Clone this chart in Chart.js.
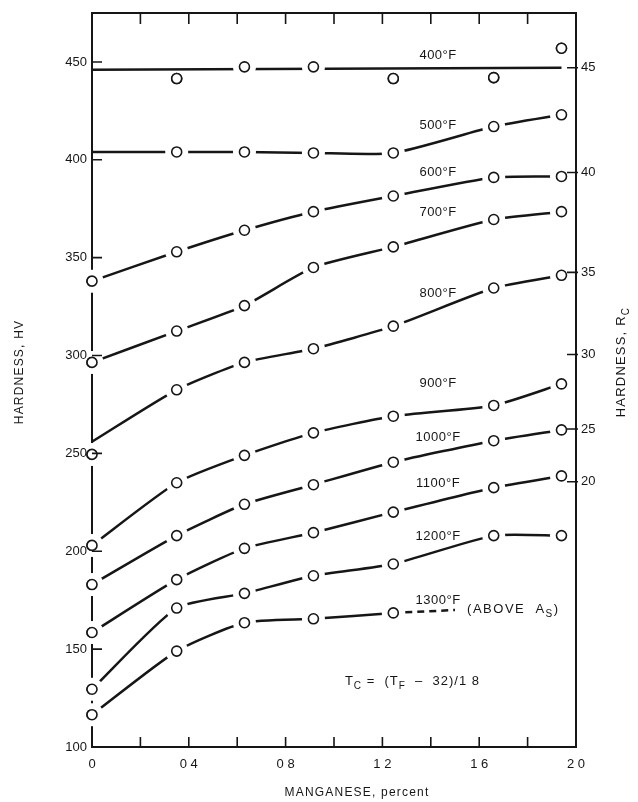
<!DOCTYPE html>
<html>
<head>
<meta charset="utf-8">
<script src="https://cdn.jsdelivr.net/npm/chart.js@4.4.1/dist/chart.umd.min.js"></script>
<style>
  html, body { margin: 0; padding: 0; background: #fff; }
</style>
</head>
<body>
<canvas id="chart" width="638" height="802"></canvas>
<script>
const INK = "#161616";
const FONT = '"Liberation Sans", Arial, Helvetica, sans-serif';

// manganese content of the steels, percent
const manganese = [0, 0.35, 0.63, 0.915, 1.245, 1.66, 1.94];

// hardness HV after tempering, one list per temperature (null = no reading)
const hv400 = [null, 441.5, 447.5, 447.5, 441.5, 442, 457];
const hv500 = [404, 404, 404, 403.5, 403.5, 417, 423];
const hv600 = [338, 353, 364, 373.5, 381.5, 391, 391.5];
const hv700 = [296.5, 312.5, 325.5, 345, 355.5, 369.5, 373.5];
const hv800 = [256, 282.5, 296.5, 303.5, 315, 334.5, 341];
const hv900 = [203, 235, 249, 260.5, 269, 274.5, 285.5];
const hv1000 = [183, 208, 224, 234, 245.5, 256.5, 262];
const hv1100 = [158.5, 185.5, 201.5, 209.5, 220, 232.5, 238.5];
const hv1200 = [129.5, 171, 178.5, 187.5, 193.5, 208, 208];
const hv1300 = [116.5, 149, 163.5, 165.5, 168.5, null, null];

// 400°F is a straight mean line through the scatter (Mn 0 and Mn 1.94)
const fit400 = [446, 447];
// 1300°F goes on dashed (above As)
const dash1300Mn = [1.245, 1.5];
const dash1300Hv = [168.5, 170];
// lone reading at Mn 0, not joined to a curve
const loneMn = [0];
const loneHv = [249.5];

const curveSeries = [hv500, hv600, hv700, hv800, hv900, hv1000, hv1100, hv1200, hv1300];
// these curves start at Mn 0 without a measured point there
const unmeasuredAtZero = [hv500, hv800];

const tempLabels = ["400°F", "500°F", "600°F", "700°F", "800°F", "900°F", "1000°F", "1100°F", "1200°F", "1300°F"];
const tempLabelHv = [453.5, 417.5, 393.5, 373, 331.5, 285.5, 258, 234.5, 207.5, 175];

// axes
const mnTicks = [0.2, 0.4, 0.6, 0.8, 1.0, 1.2, 1.4, 1.6, 1.8];
const mnLabelValues = [0, 0.4, 0.8, 1.2, 1.6, 2.0];
const mnLabels = ["0", "0 4", "0 8", "1 2", "1 6", "2 0"];
const hvTicks = [100, 150, 200, 250, 300, 350, 400, 450];
const rcLabels = ["45", "40", "35", "30", "25", "20"];
const rcAsHv = [447, 393.5, 342.5, 300.5, 262.5, 235.5];

const toPoints = (xs, ys) => xs.map((x, i) => ({ x: x, y: ys[i] })).filter((p) => p.y !== null && p.y !== undefined);

const lineStyle = { borderColor: INK, borderWidth: 2.5, pointRadius: 0, fill: false, clip: false };

const datasets = [];
curveSeries.forEach((hv) => {
  datasets.push({ ...lineStyle, data: toPoints(manganese, hv), tension: 0.2 });
});
datasets.push({ ...lineStyle, data: toPoints([manganese[0], manganese[manganese.length - 1]], fit400), tension: 0 });
datasets.push({ ...lineStyle, data: toPoints(dash1300Mn, dash1300Hv), tension: 0, borderDash: [7, 5] });

let markers = toPoints(manganese, hv400).concat(toPoints(loneMn, loneHv));
curveSeries.forEach((hv) => {
  let pts = toPoints(manganese, hv);
  if (unmeasuredAtZero.includes(hv)) pts = pts.filter((p) => p.x !== 0);
  markers = markers.concat(pts);
});

// circles off the 400°F line get no white ring
const fitAt = (mn) => fit400[0] + ((fit400[1] - fit400[0]) * mn) / manganese[manganese.length - 1];
const scatter400 = toPoints(manganese, hv400).filter((p) => Math.abs(p.y - fitAt(p.x)) > 2);
const ringed = markers.map((p) => !scatter400.some((s) => s.x === p.x && s.y === p.y));

// the circles dataset is placed by the library, the plugin repaints it over the lines
const markerIndex = datasets.length;
datasets.push({ data: markers, showLine: false, pointRadius: 5, pointBorderWidth: 1.6, pointBorderColor: INK, pointBackgroundColor: "#fff", clip: false });

function drawParts(ctx, parts, x, y, align) {
  const size = 13;
  const widths = parts.map(([text, sub]) => {
    ctx.font = `${sub ? 10 : size}px ${FONT}`;
    return ctx.measureText(text).width;
  });
  const total = widths.reduce((a, b) => a + b, 0);
  let cx = align === "center" ? x - total / 2 : x;
  ctx.textAlign = "left";
  ctx.textBaseline = "middle";
  parts.forEach(([text, sub], i) => {
    ctx.font = `${sub ? 10 : size}px ${FONT}`;
    ctx.fillText(text, cx, sub ? y + 5 : y);
    cx += widths[i];
  });
}

const circlesOnTop = {
  id: "circlesOnTop",
  afterDatasetsDraw(chart) {
    const { ctx, chartArea: area } = chart;
    const meta = chart.getDatasetMeta(markerIndex);
    ctx.save();
    ctx.beginPath();
    ctx.rect(area.left - 2, 0, chart.width, chart.height);
    ctx.clip();
    ctx.fillStyle = "#ffffff";
    meta.data.forEach((pt, i) => {
      if (!ringed[i]) return;
      ctx.beginPath();
      ctx.arc(pt.x, pt.y, 11.5, 0, Math.PI * 2);
      ctx.fill();
    });
    ctx.restore();
    ctx.save();
    meta.data.forEach((pt) => pt.draw(ctx));
    ctx.restore();
  },
};

const annotate = {
  id: "annotate",
  afterDraw(chart) {
    const { ctx, chartArea: area, scales } = chart;
    const x = scales.x;
    const y = scales.y;
    ctx.save();
    ctx.strokeStyle = INK;
    ctx.lineWidth = 1.6;
    ctx.beginPath();
    mnTicks.forEach((v) => {
      const px = x.getPixelForValue(v);
      ctx.moveTo(px, area.bottom);
      ctx.lineTo(px, area.bottom - 10);
      ctx.moveTo(px, area.top);
      ctx.lineTo(px, area.top + 11);
    });
    hvTicks.slice(1).forEach((v) => {
      const py = y.getPixelForValue(v);
      ctx.moveTo(area.left, py);
      ctx.lineTo(area.left + 10, py);
    });
    rcAsHv.forEach((v) => {
      const py = y.getPixelForValue(v);
      ctx.moveTo(area.right + 2, py);
      ctx.lineTo(area.right - 9, py);
    });
    ctx.stroke();

    ctx.fillStyle = INK;
    ctx.letterSpacing = "0.5px";
    ctx.font = `13px ${FONT}`;
    ctx.textAlign = "center";
    ctx.textBaseline = "middle";
    tempLabels.forEach((t, i) => {
      ctx.fillText(t, x.getPixelForValue(1.43), y.getPixelForValue(tempLabelHv[i]));
    });

    ctx.letterSpacing = "1.5px";
    drawParts(ctx, [["(ABOVE  A", false], ["S", true], [")", false]], x.getPixelForValue(1.55), y.getPixelForValue(170.5), "left");
    ctx.letterSpacing = "1px";
    drawParts(ctx, [["T", false], ["C", true], [" =  (T", false], ["F", true], ["  \u2013  32)/1 8", false]], x.getPixelForValue(1.045), y.getPixelForValue(133.5), "left");

    // axis titles
    ctx.letterSpacing = "1.2px";
    ctx.font = `12px ${FONT}`;
    ctx.save();
    ctx.translate(area.left - 72, 372);
    ctx.rotate(-Math.PI / 2);
    ctx.textAlign = "center";
    ctx.fillText("HARDNESS, HV", 0, 0);
    ctx.restore();

    ctx.save();
    ctx.translate(area.right + 45, 362);
    ctx.rotate(-Math.PI / 2);
    drawParts(ctx, [["HARDNESS, R", false], ["C", true]], 0, 0, "center");
    ctx.restore();

    ctx.font = `12px ${FONT}`;
    ctx.textAlign = "center";
    ctx.textBaseline = "middle";
    ctx.fillText("MANGANESE, percent", 357, area.bottom + 46);
    ctx.restore();
  },
};

const tickFont = { family: FONT, size: 13 };
const frame = { display: true, width: 2, color: INK };

new Chart(document.getElementById("chart"), {
  type: "line",
  data: { datasets: datasets },
  options: {
    responsive: false,
    animation: false,
    events: [],
    layout: { padding: 0 },
    plugins: { legend: { display: false }, tooltip: { enabled: false } },
    scales: {
      x: {
        type: "linear",
        position: "bottom",
        min: 0,
        max: 2,
        afterBuildTicks: (s) => { s.ticks = mnLabelValues.map((v) => ({ value: v })); },
        ticks: { font: tickFont, color: INK, padding: 10, maxRotation: 0, autoSkip: false, callback: (v, i) => mnLabels[i] },
        grid: { display: false, drawTicks: false },
        border: frame,
        afterFit: (s) => { s.height = 55; },
      },
      x2: {
        type: "linear",
        position: "top",
        min: 0,
        max: 2,
        ticks: { display: false },
        grid: { display: false, drawTicks: false },
        border: frame,
        afterFit: (s) => { s.height = 13; },
      },
      y: {
        type: "linear",
        position: "left",
        min: 100,
        max: 475,
        afterBuildTicks: (s) => { s.ticks = hvTicks.map((v) => ({ value: v })); },
        ticks: { font: tickFont, color: INK, padding: 5, autoSkip: false },
        grid: { display: false, drawTicks: false },
        border: frame,
        afterFit: (s) => { s.width = 92; },
      },
      y2: {
        type: "linear",
        position: "right",
        min: 100,
        max: 475,
        afterBuildTicks: (s) => { s.ticks = rcAsHv.map((v) => ({ value: v })); },
        ticks: { font: tickFont, color: INK, padding: 5, autoSkip: false, callback: (v, i) => rcLabels[i] },
        grid: { display: false, drawTicks: false },
        border: frame,
        afterFit: (s) => { s.width = 62; },
      },
    },
  },
  plugins: [circlesOnTop, annotate],
});
</script>
</body>
</html>
